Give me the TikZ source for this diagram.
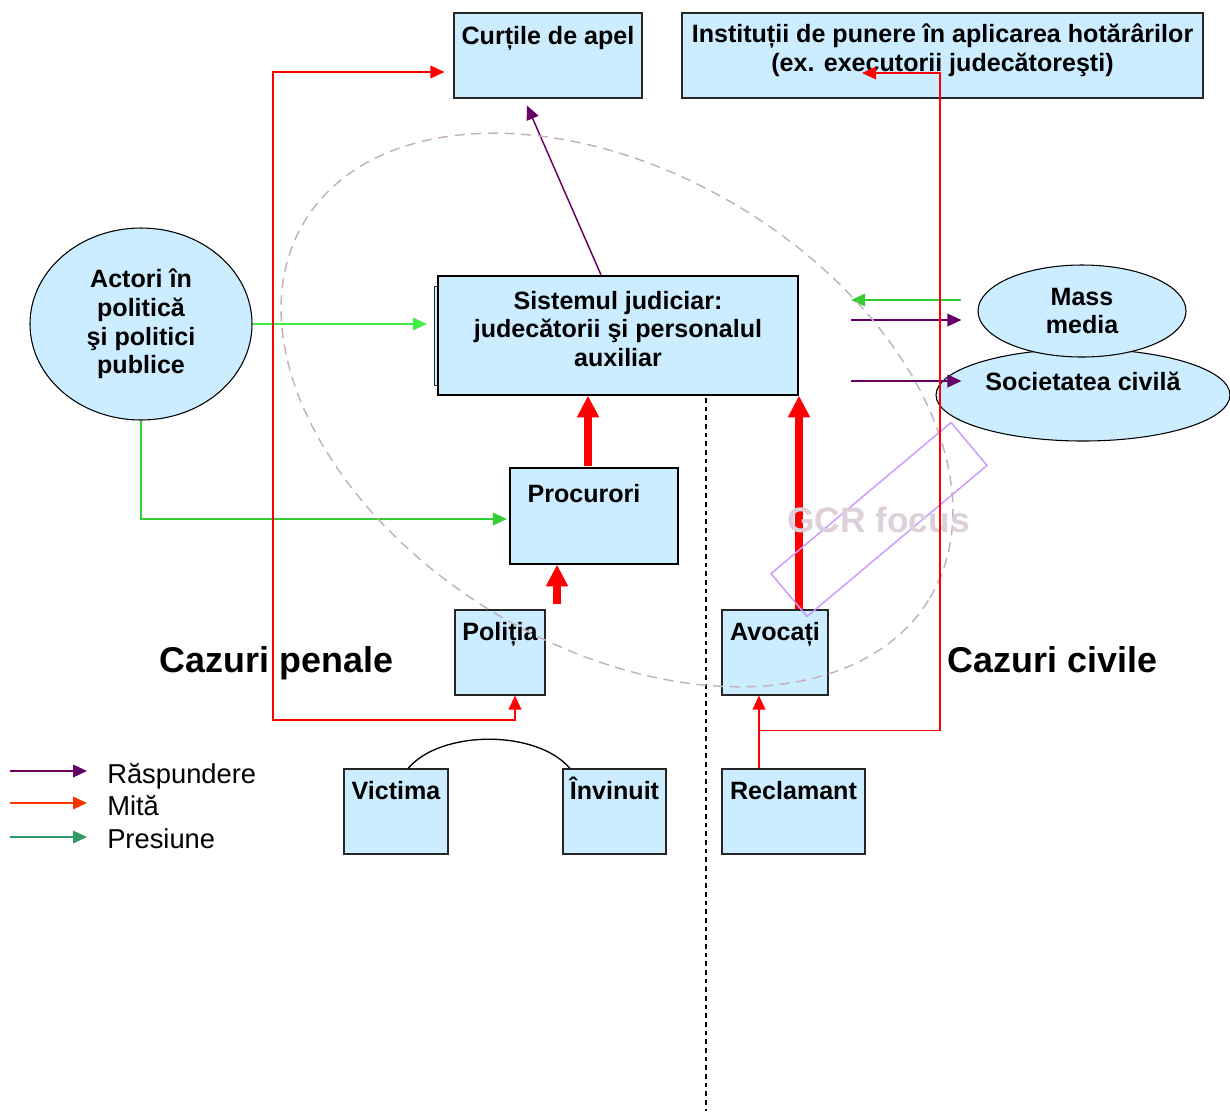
\documentclass[tikz,border=0pt]{standalone}
\usepackage{fontspec}
\setmainfont{Liberation Sans}
\usepackage{tikz}
\usetikzlibrary{arrows.meta,shapes.geometric}

\definecolor{boxblue}{HTML}{CCECFF}
\definecolor{raspcol}{HTML}{660066}
\definecolor{presgreen}{HTML}{33CC33}
\definecolor{litegreen}{HTML}{44EE44}
\definecolor{legred}{HTML}{FF3300}
\definecolor{legteal}{HTML}{339966}
\definecolor{focuscol}{HTML}{CC99FF}
\definecolor{gcrgray}{HTML}{DDD0DA}
\definecolor{ovalcol}{HTML}{C6B0C0}

\newdimen\pxu \pxu=0.75pt
\newcommand{\boxfont}{\fontsize{18.8}{21.5}\selectfont\bfseries}

\tikzset{
  box/.style={draw=black!85, fill=boxblue, line width=0.8pt, inner sep=0pt},
  heavybox/.style={box, draw=black, line width=1.7pt},
  oval/.style={ellipse, draw=black, fill=boxblue, line width=0.8pt, inner sep=0pt, font=\boxfont, align=center},
  intxt/.style={anchor=north, font=\boxfont, inner sep=0pt, text height=13.7pt, yshift=-#1},
  inmulti/.style={anchor=north, font=\boxfont, align=center, inner sep=0pt, yshift=-#1},
  thinhead/.style={-{Triangle[length=10.5pt,width=9.5pt]}},
  raspund/.style={thinhead, draw=raspcol, line width=1.1pt},
  presiune/.style={thinhead, draw=presgreen, line width=1.1pt},
  mita/.style={draw=red, line width=1.1pt},
  bigmita/.style={draw=red, line width=6pt, -{Triangle[length=16pt,width=17pt,line width=0pt]}},
  legtxt/.style={anchor=base west, inner sep=0pt, font=\fontsize{20.5}{24}\selectfont},
  bigtxt/.style={anchor=base, inner sep=0pt, font=\fontsize{26.9}{32}\selectfont\bfseries},
}

\begin{document}
\begin{tikzpicture}[x=0.75pt, y=-0.75pt]
\useasboundingbox (0,0) rectangle (1230,1111);

% top boxes
\node[box, minimum width=188\pxu, minimum height=85\pxu,
  label={[intxt=9.75pt]north:Curțile de apel}] (curtile) at (548,55.5) {};
\node[box, minimum width=521\pxu, minimum height=85\pxu,
  label={[inmulti=8.5pt]north:{Instituții de punere în aplicarea hotărârilor\\(ex. executorii judecătoreşti)}}] (instit) at (942.5,55.5) {};

% courts
\draw[draw=black!85, fill=boxblue, line width=0.6pt] (434,286) rectangle (445,385);
\node[heavybox, minimum width=360\pxu, minimum height=119\pxu,
  label={[inmulti=12pt]north:{Sistemul judiciar:\\judecătorii şi personalul\\auxiliar}}] (sistem) at (618,335.5) {};
\node[heavybox, minimum width=168\pxu, minimum height=96\pxu,
  label={[intxt=12.75pt, xshift=-7.5pt]north:Procurori}] (procur) at (594,516) {};
\node[box, minimum width=90\pxu, minimum height=85\pxu,
  label={[intxt=9pt]north:Poliția}] (politia) at (500,652.5) {};
\node[box, minimum width=106\pxu, minimum height=85\pxu,
  label={[intxt=9pt]north:Avocați}] (avocati) at (775,652.5) {};

% parties
\node[box, minimum width=104\pxu, minimum height=85\pxu,
  label={[intxt=9pt]north:Victima}] (victima) at (396,811.5) {};
\node[box, minimum width=103\pxu, minimum height=85\pxu,
  label={[intxt=9pt]north:Învinuit}] (invinuit) at (614.5,811.5) {};
\node[box, minimum width=143\pxu, minimum height=85\pxu,
  label={[intxt=9pt]north:Reclamant}] (reclam) at (793.5,811.5) {};

% outside actors
\node[oval, minimum width=222\pxu, minimum height=192\pxu] (actori) at (141,324) {Actori în\\politică\\şi politici\\publice};
\node[oval, minimum width=294\pxu, minimum height=92\pxu,
  label={[anchor=center, font=\boxfont, yshift=10.5pt]center:Societatea civilă}] (societ) at (1083,395) {};
\node[oval, minimum width=208\pxu, minimum height=92\pxu] (media) at (1082,311) {Mass\\media};

% raspundere
\draw[raspund] ([shift={(-17,0)}]sistem.north) -- ([shift={(-21,7)}]curtile.south);
\draw[raspund] ([shift={(52,-15.5)}]sistem.east) -- ([shift={(-16,9)}]media.west);
\draw[raspund] ([shift={(52,45.5)}]sistem.east) -- ([shift={(26,-14)}]societ.west);

% presiune
\draw[presiune, draw=litegreen] (actori.east) -- ([shift={(-10,-11.5)}]sistem.west);
\draw[presiune] (actori.south) |- ([shift={(-2,3)}]procur.west);
\draw[presiune] ([shift={(-16,-11)}]media.west) -- ([shift={(52,-35.5)}]sistem.east);

% mita, thick
\coordinate (pk) at ([shift={(-6,-1)}]procur.north);
\draw[bigmita] (pk) -- (pk |- sistem.south);
\coordinate (pp) at ([shift={(57,-5)}]politia.north);
\draw[bigmita] (pp) -- (pp |- procur.south);
\coordinate (av) at ([shift={(24,0)}]avocati.north);
\draw[bigmita] (av) -- (av |- sistem.south);

% divider and focus
\coordinate (dtop) at (706,398);
\coordinate (dbot) at (706,1111);
\draw[black, line width=0.8pt, dash pattern=on 3.5pt off 3pt] (dtop) -- (dbot);
\node[ellipse, draw=ovalcol, line width=1.1pt, dash pattern=on 7.5pt off 5pt,
  minimum width=730\pxu, minimum height=474\pxu, rotate=-31] (gcroval) at (617,410) {};
\node[draw=focuscol, line width=1.1pt, rotate=40, inner sep=0pt,
  minimum width=235\pxu, minimum height=56\pxu] (focus) at (879,519.5) {};
\node[anchor=base, inner sep=0pt, text=gcrgray, font=\fontsize{26.5}{30}\selectfont\bfseries] (gcr) at (878.5,532) {GCR focus};

% mita, thin
\coordinate (lcorner) at (273,720);
\draw[mita, {Triangle[length=10.5pt,width=9.5pt]}-{Triangle[length=10.5pt,width=9.5pt]}]
  ([shift={(-9,16.5)}]curtile.west) -| (lcorner) -| ([shift={(15,0)}]politia.south);
\coordinate (rk) at ([shift={(-34.5,0)}]reclam.north);
\draw[mita, thinhead] (rk) -- (rk |- avocati.south);
\coordinate (rb) at ([shift={(0,-38)}]rk);
\draw[mita, thinhead] (rb) -| ([shift={(-2.5,17.5)}]instit.center) -- ([shift={(-80.5,17.5)}]instit.center);

% victim and accused
\coordinate (vs) at ([shift={(12,0)}]victima.north);
\coordinate (ie) at ([shift={(-44.5,0)}]invinuit.north);
\draw[line width=1pt] (vs) .. controls ([shift={(33,-39)}]vs) and ([shift={(-33,-39)}]ie) .. (ie);

% case types
\node[bigtxt] (penale) at (276.5,672) {Cazuri penale};
\node[bigtxt] (civile) at (1052.5,672) {Cazuri civile};

% legend
\node[legtxt] (lraspund) at (107,783) {Răspundere};
\node[legtxt] (lmita) at (107,815) {Mită};
\node[legtxt] (lpres) at (107,848) {Presiune};
\coordinate (la) at (10,771);
\coordinate (lb) at (10,803);
\coordinate (lc) at (10,837);
\draw[thinhead, draw=raspcol, line width=1.1pt] (la) -- ([shift={(-20,-12)}]lraspund.base west);
\draw[thinhead, draw=legred, line width=1.1pt] (lb) -- ([shift={(-20,-12)}]lmita.base west);
\draw[thinhead, draw=legteal, line width=1.1pt] (lc) -- ([shift={(-20,-11)}]lpres.base west);
\end{tikzpicture}
\end{document}
